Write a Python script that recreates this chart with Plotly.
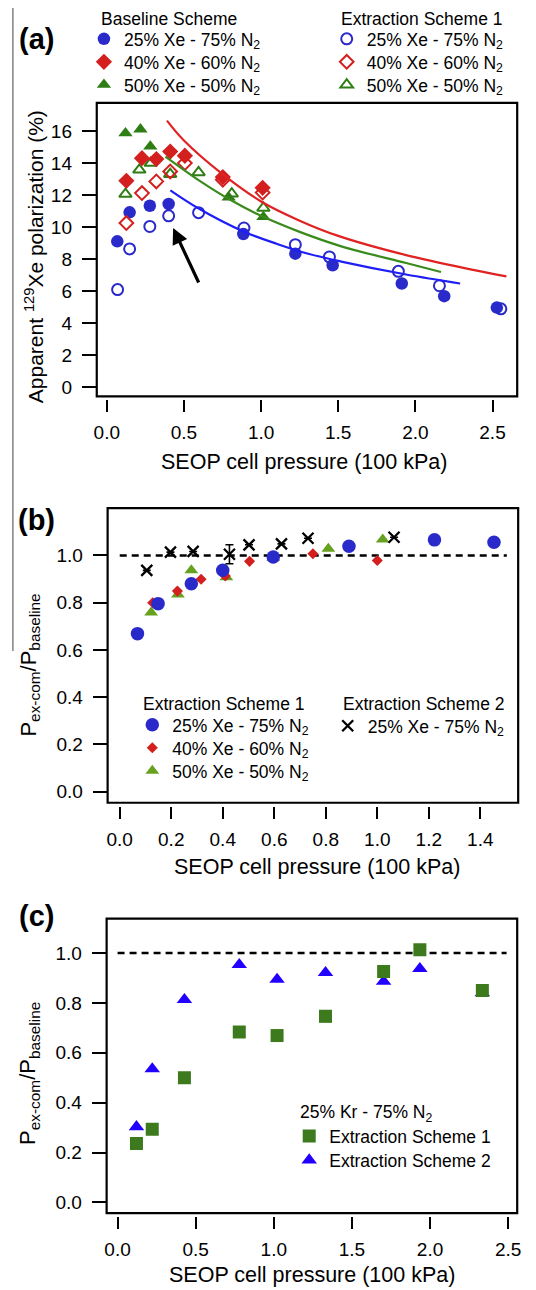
import plotly.graph_objects as go

W, H = 536, 1290
FONT = "Liberation Sans, Arial, sans-serif"

# ---------------- Panel (a) data ----------------
a_base25_x = [0.068, 0.148, 0.279, 0.401, 0.885, 1.222, 1.464, 1.912, 2.187, 2.528]
a_base25_y = [9.11, 10.92, 11.33, 11.44, 9.57, 8.34, 7.62, 6.48, 5.69, 4.98]
a_base40_x = [0.127, 0.228, 0.321, 0.411, 0.506, 0.752, 1.010]
a_base40_y = [12.89, 14.30, 14.24, 14.71, 14.45, 13.12, 12.45]
a_base50_x = [0.121, 0.218, 0.282, 0.790, 1.015]
a_base50_y = [15.86, 16.10, 15.03, 11.85, 10.63]
a_ext25_x = [0.070, 0.148, 0.279, 0.401, 0.595, 0.889, 1.222, 1.443, 1.890, 2.156, 2.554]
a_ext25_y = [6.10, 8.64, 10.04, 10.70, 10.90, 9.94, 8.90, 8.14, 7.24, 6.34, 4.90]
a_ext40_x = [0.127, 0.228, 0.321, 0.411, 0.506, 0.752, 1.010]
a_ext40_y = [10.25, 12.12, 12.85, 13.47, 13.99, 12.95, 12.15]
a_ext50_x = [0.121, 0.211, 0.285, 0.411, 0.595, 0.810, 1.015]
a_ext50_y = [12.06, 13.57, 13.99, 13.30, 13.41, 12.08, 11.19]
# fitted curves
a_fit40_x = [0.39, 0.5, 0.75, 1.0, 1.25, 1.5, 1.94, 2.35, 2.59]
a_fit40_y = [16.64, 15.4, 13.3, 11.6, 10.4, 9.45, 8.25, 7.38, 6.93]
a_fit50_x = [0.38, 0.6, 0.8, 1.0, 1.25, 1.52, 1.94, 2.166]
a_fit50_y = [14.4, 12.9, 11.7, 10.7, 9.7, 8.8, 7.76, 7.2]
a_fit25_x = [0.412, 0.59, 0.885, 1.104, 1.3, 1.52, 1.94, 2.29]
a_fit25_y = [12.29, 11.19, 9.73, 8.95, 8.35, 7.85, 7.04, 6.48]
a_arrow_tail = (0.60, 6.45)
a_arrow_head = (0.43, 9.95)
a_xticks = [0.0, 0.5, 1.0, 1.5, 2.0, 2.5]
a_yticks = [0, 2, 4, 6, 8, 10, 12, 14, 16]

# ---------------- Panel (b) data ----------------
b_ext25_x = [0.069, 0.149, 0.278, 0.400, 0.596, 0.890, 1.222, 1.453]
b_ext25_y = [0.669, 0.796, 0.880, 0.937, 0.993, 1.039, 1.066, 1.056]
b_ext40_x = [0.128, 0.224, 0.316, 0.410, 0.504, 0.750, 1.000]
b_ext40_y = [0.800, 0.849, 0.899, 0.913, 0.975, 1.007, 0.979]
b_ext50_x = [0.122, 0.226, 0.278, 0.414, 0.596, 0.810, 1.021]
b_ext50_y = [0.758, 0.835, 0.937, 0.908, 0.990, 1.028, 1.068]
b_s2_x = [0.105, 0.197, 0.285, 0.426, 0.502, 0.628, 0.731, 1.065]
b_s2_y = [0.937, 1.014, 1.017, 1.005, 1.045, 1.049, 1.073, 1.077]
b_s2_err = [0, 0, 0, 0.04, 0, 0, 0, 0]
b_ref_x = [0.0, 1.503]
b_ref_y = [1.0, 1.0]
b_xticks = [0.0, 0.2, 0.4, 0.6, 0.8, 1.0, 1.2, 1.4]
b_yticks = [0.0, 0.2, 0.4, 0.6, 0.8, 1.0]

# ---------------- Panel (c) data ----------------
c_s1_x = [0.121, 0.222, 0.428, 0.779, 1.021, 1.331, 1.703, 1.935, 2.335]
c_s1_y = [0.236, 0.293, 0.500, 0.683, 0.669, 0.746, 0.926, 1.013, 0.850]
c_s2_x = [0.121, 0.222, 0.428, 0.779, 1.021, 1.331, 1.703, 1.935, 2.335]
c_s2_y = [0.303, 0.535, 0.813, 0.953, 0.894, 0.921, 0.886, 0.937, 0.840]
c_ref_x = [0.0, 2.49]
c_ref_y = [1.0, 1.0]
c_xticks = [0.0, 0.5, 1.0, 1.5, 2.0, 2.5]
c_yticks = [0.0, 0.2, 0.4, 0.6, 0.8, 1.0]

# ---------------- styles ----------------
BLUE = "#2a2acb"
RED = "#d41f1f"
GREEN = "#2f7d15"
GREEN_B = "#66a11f"
GREEN_C = "#3d7a1e"
BLUE_C = "#2200ff"
LBLUE = "#1f1ff5"
LRED = "#e02222"
LGREEN = "#3a8a1c"
LEG_FS = 17.5


def px(v):
    return v / W


def py(v):
    return 1 - v / H


fig = go.Figure()
legends = {}
_leg_count = [0]


def new_legend(marker_x, row_y):
    """one legend box per entry, so every row can sit where the original shows it"""
    _leg_count[0] += 1
    key = "legend" if _leg_count[0] == 1 else "legend%d" % _leg_count[0]
    legends[key] = dict(x=px(marker_x - 20), y=py(row_y), xanchor="left", yanchor="middle",
                        bgcolor="rgba(0,0,0,0)", borderwidth=0,
                        font=dict(family=FONT, size=LEG_FS, color="black"),
                        itemclick=False, itemdoubleclick=False, itemwidth=30)
    return key


def sc(x, y, xa, ya, symbol, size, color, name=None, leg_pos=None, lw=0, err=None):
    m = dict(symbol=symbol, size=size, color=color)
    if "open" in symbol:
        m["line"] = dict(width=lw, color=color)
    else:
        m["line"] = dict(width=0)
    kw = {}
    if err is not None:
        kw["error_y"] = dict(type="data", array=err, visible=True, color="black", thickness=1.6, width=4)
    if leg_pos is not None:
        kw["legend"] = new_legend(*leg_pos)
        kw["showlegend"] = True
    else:
        kw["showlegend"] = False
    fig.add_trace(go.Scatter(x=x, y=y, xaxis=xa, yaxis=ya, mode="markers", marker=m, name=name, **kw))


def N2(s):
    return s + " N<sub>2</sub>"

# legend rows (pixel positions of the key symbols)
A_L, A_R = 102, 348
A_ROWS = [39, 62, 85]
B_L, B_R = 151, 349
B_ROWS = [726, 749, 772]
C_L = 310
C_ROWS = [1138, 1162]

# ---- panel (a) ----
sc(a_base50_x, a_base50_y, "x", "y", "triangle-up", 12.5, GREEN, N2("50% Xe - 50%"), (A_L, A_ROWS[2]))
sc(a_base25_x, a_base25_y, "x", "y", "circle", 12.5, BLUE, N2("25% Xe - 75%"), (A_L, A_ROWS[0]))
sc(a_ext25_x, a_ext25_y, "x", "y", "circle-open", 11, BLUE, N2("25% Xe - 75%"), (A_R, A_ROWS[0]), lw=2)
sc(a_ext50_x, a_ext50_y, "x", "y", "triangle-up-open", 11, GREEN, N2("50% Xe - 50%"), (A_R, A_ROWS[2]), lw=2)
sc(a_ext40_x, a_ext40_y, "x", "y", "diamond-open", 10.5, RED, N2("40% Xe - 60%"), (A_R, A_ROWS[1]), lw=2)
sc(a_base40_x, a_base40_y, "x", "y", "diamond", 12.5, RED, N2("40% Xe - 60%"), (A_L, A_ROWS[1]))
for fx, fy, col in [(a_fit40_x, a_fit40_y, LRED), (a_fit50_x, a_fit50_y, LGREEN), (a_fit25_x, a_fit25_y, LBLUE)]:
    fig.add_trace(go.Scatter(x=fx, y=fy, xaxis="x", yaxis="y", mode="lines",
                             line=dict(color=col, width=2.2, shape="spline"), showlegend=False))

# ---- panel (b) ----
fig.add_trace(go.Scatter(x=b_ref_x, y=b_ref_y, xaxis="x2", yaxis="y2", mode="lines",
                         line=dict(color="black", width=2.4, dash="7px,5px"), showlegend=False))
sc(b_ext50_x, b_ext50_y, "x2", "y2", "triangle-up", 12, GREEN_B, N2("50% Xe - 50%"), (B_L, B_ROWS[2]))
sc(b_ext40_x, b_ext40_y, "x2", "y2", "diamond", 8.5, RED, N2("40% Xe - 60%"), (B_L, B_ROWS[1]))
sc(b_ext25_x, b_ext25_y, "x2", "y2", "circle", 13.5, BLUE, N2("25% Xe - 75%"), (B_L, B_ROWS[0]))
sc(b_s2_x, b_s2_y, "x2", "y2", "x-thin-open", 11, "black", N2("25% Xe - 75%"), (B_R, B_ROWS[0] + 1),
   lw=2.3, err=b_s2_err)

# ---- panel (c) ----
fig.add_trace(go.Scatter(x=c_ref_x, y=c_ref_y, xaxis="x3", yaxis="y3", mode="lines",
                         line=dict(color="black", width=2.4, dash="7px,5px"), showlegend=False))
sc(c_s2_x, c_s2_y, "x3", "y3", "triangle-up", 13.5, BLUE_C, "Extraction Scheme 2", (C_L, C_ROWS[1]))
sc(c_s1_x, c_s1_y, "x3", "y3", "square", 13, GREEN_C, "Extraction Scheme 1", (C_L, C_ROWS[0]))

# ---------------- axes ----------------
TICKF = dict(family=FONT, size=19, color="black")


def xax(dom, rng, ticks, fmt, pos):
    return dict(domain=dom, range=rng, anchor="free", position=pos, tickvals=ticks,
                ticktext=[fmt.format(t) for t in ticks], ticks="outside", ticklen=12, tickwidth=2,
                tickcolor="black", showline=False, showgrid=False, zeroline=False, tickfont=TICKF,
                ticklabelstandoff=4, fixedrange=True)


def yax(dom, rng, ticks, fmt, anchor):
    return dict(domain=dom, range=rng, anchor=anchor, tickvals=ticks,
                ticktext=[fmt.format(t) for t in ticks], ticks="outside", ticklen=14, tickwidth=2,
                tickcolor="black", showline=False, showgrid=False, zeroline=False, tickfont=TICKF,
                ticklabelstandoff=6, fixedrange=True)


frames = [  # left, right, top, bottom in pixels
    (95, 521, 103, 397),
    (106, 522, 509, 804),
    (105, 521, 920, 1215),
]

fa, fb, fc = frames
layout = dict(
    width=W, height=H, margin=dict(l=0, r=0, t=0, b=0),
    paper_bgcolor="white", plot_bgcolor="white",
    font=dict(family=FONT, color="black"),
    xaxis=xax([px(fa[0]), px(fa[1])], [-0.065, 2.66], a_xticks, "{:.1f}", py(fa[3] + 3)),
    yaxis=yax([py(fa[3]), py(fa[2])], [-0.56, 17.75], a_yticks, "{:d}", "x"),
    xaxis2=xax([px(fb[0]), px(fb[1])], [-0.047, 1.547], b_xticks, "{:.1f}", py(fb[3] + 3)),
    yaxis2=yax([py(fb[3]), py(fb[2])], [-0.047, 1.2], b_yticks, "{:.1f}", "x2"),
    xaxis3=xax([px(fc[0]), px(fc[1])], [-0.07, 2.558], c_xticks, "{:.1f}", py(fc[3] + 3)),
    yaxis3=yax([py(fc[3]), py(fc[2])], [-0.043, 1.138], c_yticks, "{:.1f}", "x3"),
)
layout.update(legends)
fig.update_layout(**layout)

# frames
for xr, yr in [("x", "y"), ("x2", "y2"), ("x3", "y3")]:
    fig.add_shape(type="rect", xref=xr + " domain", yref=yr + " domain", x0=0, x1=1, y0=0, y1=1,
                  line=dict(color="black", width=2.2), layer="above")

# scan border line at left
fig.add_shape(type="line", xref="paper", yref="paper", x0=px(10), x1=px(10), y0=py(8), y1=py(652),
              line=dict(color="#8a8a8a", width=1.6))

ann = []


def text(t, xp, yp, size, xanchor="left", yanchor="middle", angle=0, bold=False):
    if bold:
        t = "<b>" + t + "</b>"
    ann.append(dict(text=t, x=px(xp), y=py(yp), xref="paper", yref="paper", showarrow=False,
                    xanchor=xanchor, yanchor=yanchor, textangle=angle,
                    font=dict(family=FONT, size=size, color="black")))

# panel labels
text("(a)", 34, 39, 29, "center", "middle", bold=True)
text("(b)", 34, 521, 29, "center", "middle", bold=True)
text("(c)", 34, 917, 29, "center", "middle", bold=True)
# legend headers
text("Baseline Scheme", 97, 19, LEG_FS)
text("Extraction Scheme 1", 340, 19, LEG_FS)
text("Extraction Scheme 1", 140, 705, LEG_FS)
text("Extraction Scheme 2", 342, 705, LEG_FS)
text("25% Kr - 75% N<sub>2</sub>", 299, 1115, LEG_FS)
# axis titles
text("SEOP cell pressure (100 kPa)", 305, 463, 21.5, "center")
text("SEOP cell pressure (100 kPa)", 318, 868, 21.5, "center")
text("SEOP cell pressure (100 kPa)", 313, 1277, 21.5, "center")
text("Apparent <sup>129</sup>Xe polarization (%)", 31, 257, 21, "center", "middle", angle=-90)
text("P<sub>ex-com</sub>/P<sub>baseline</sub>", 27, 666, 22, "center", "middle", angle=-90)
text("P<sub>ex-com</sub>/P<sub>baseline</sub>", 27, 1075, 22, "center", "middle", angle=-90)

# arrow in panel (a)
ann.append(dict(x=a_arrow_head[0], y=a_arrow_head[1], ax=a_arrow_tail[0], ay=a_arrow_tail[1],
                xref="x", yref="y", axref="x", ayref="y", showarrow=True, text="",
                arrowhead=2, arrowsize=1.0, arrowwidth=3.2, arrowcolor="black", standoff=0))

fig.update_layout(annotations=ann)
fig.write_html("out.html", config={"displayModeBar": False},
               post_script="document.body.style.margin='0';document.body.style.overflow='hidden';")
